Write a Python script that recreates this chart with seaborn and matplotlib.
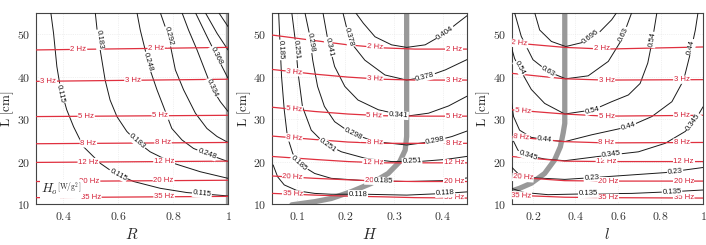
import numpy as np
import matplotlib
matplotlib.use("Agg")
import matplotlib.pyplot as plt
from matplotlib.ticker import FuncFormatter
import seaborn as sns

# ---- panel 1 : H_o over (R, L) ----
p1_black = {
    "0.115": ([0.354, 0.364, 0.376, 0.388, 0.412, 0.437, 0.473, 0.534, 0.583, 0.656, 0.753, 0.850, 1.0],
              [55.1, 50.2, 42.4, 37.7, 32.2, 28.2, 23.5, 19.6, 17.4, 15.3, 13.7, 12.7, 11.9]),
    "0.183": ([0.516, 0.524, 0.536, 0.552, 0.570, 0.595, 0.631, 0.668, 0.716, 0.801, 0.899, 1.0],
              [55.1, 50.2, 45.5, 39.2, 34.5, 30.6, 27.1, 24.7, 22.3, 19.6, 17.6, 16.05]),
    "0.248": ([0.668, 0.680, 0.698, 0.716, 0.741, 0.765, 0.795, 0.832, 0.874, 0.923, 1.0],
              [55.1, 51.0, 46.3, 41.6, 36.9, 32.9, 27.8, 25.1, 23.1, 21.8, 20.0]),
    "0.292": ([0.753, 0.783, 0.808, 0.838, 0.881, 0.923, 0.960, 1.0],
              [55.1, 49.5, 41.6, 36.9, 31.4, 27.8, 25.9, 24.5]),
    "0.334": ([0.832, 0.856, 0.887, 0.941, 0.972, 1.0],
              [55.1, 51.0, 46.3, 37.3, 34.1, 31.8]),
    "0.368": ([0.881, 0.923, 0.960, 1.0], [55.1, 49.5, 44.7, 39.6]),
    "0.401": ([0.917, 0.960, 1.0], [55.1, 50.2, 46.3]),
    "0.430": ([0.966, 1.0], [55.1, 51.8]),
}
p1_red = {
    "2 Hz": ([0.3, 1.0], [46.3, 46.9]),
    "3 Hz": ([0.3, 1.0], [38.9, 39.4]),
    "5 Hz": ([0.3, 1.0], [30.6, 30.9]),
    "8 Hz": ([0.3, 1.0], [24.2, 24.5]),
    "12 Hz": ([0.3, 1.0], [19.8, 20.1]),
    "20 Hz": ([0.3, 1.0], [15.3, 15.6]),
    "35 Hz": ([0.3, 1.0], [11.5, 11.8]),
}
p1_red_lab = {"2 Hz": [0.455, 0.738], "3 Hz": [0.345, 0.653], "5 Hz": [0.483, 0.753],
              "8 Hz": [0.491, 0.763], "12 Hz": [0.491, 0.767], "20 Hz": [0.495, 0.765],
              "35 Hz": [0.50, 0.767]}
p1_black_lab = [("0.183", 0.530, 48.7), ("0.292", 0.783, 49.5), ("0.368", 0.957, 45.0),
                ("0.115", 0.388, 36.0), ("0.248", 0.707, 43.5), ("0.334", 0.941, 37.3),
                ("0.183", 0.668, 24.7), ("0.248", 0.923, 21.8), ("0.115", 0.60, 16.9),
                ("0.115", 0.905, 12.4)]
p1_gray = ([1.0, 1.0], [9.0, 56.0])

# ---- panel 2 : over (H, L) ----
p2_black = {
    "0.404": ([0.221, 0.237, 0.261, 0.295, 0.326, 0.364, 0.399, 0.430, 0.455],
              [55.1, 52.6, 49.4, 47.5, 46.9, 47.5, 49.8, 52.6, 54.8]),
    "0.378": ([0.195, 0.2055, 0.2124, 0.240, 0.2814, 0.326, 0.364, 0.4055, 0.455],
              [55.1, 50.2, 47.9, 43.9, 40.4, 39.2, 39.9, 41.6, 44.3]),
    "0.341": ([0.154, 0.164, 0.178, 0.199, 0.226, 0.268, 0.326, 0.371, 0.412, 0.455],
              [55.1, 48.7, 42.4, 37.7, 34.5, 32.2, 30.7, 31.4, 33.1, 35.7]),
    "0.298": ([0.117, 0.126, 0.133, 0.143, 0.157, 0.178, 0.212, 0.261, 0.326, 0.378, 0.419, 0.455],
              [55.1, 50.2, 43.9, 37.7, 33.0, 29.4, 26.7, 24.7, 23.9, 24.7, 25.9, 27.4]),
    "0.251": ([0.090, 0.097, 0.103, 0.112, 0.130, 0.157, 0.192, 0.240, 0.295, 0.350, 0.406, 0.455],
              [55.1, 48.7, 40.8, 32.9, 27.4, 24.3, 22.3, 20.8, 20.0, 20.0, 20.5, 21.3]),
    "0.185": ([0.063, 0.0655, 0.069, 0.0745, 0.081, 0.092, 0.109, 0.137, 0.171, 0.240, 0.326, 0.399, 0.455],
              [55.1, 48.7, 40.0, 32.2, 25.9, 21.9, 19.2, 17.2, 16.05, 15.5, 15.3, 15.5, 16.2]),
    "0.118": ([0.0517, 0.061, 0.0745, 0.102, 0.137, 0.171, 0.240, 0.326, 0.406, 0.455],
              [19.2, 16.4, 14.5, 13.1, 12.5, 12.3, 12.3, 12.1, 12.5, 12.9]),
}
h_red = [0.05, 0.137, 0.2055, 0.2745, 0.343, 0.45]
p2_red = {
    "2 Hz": (h_red, [49.8, 48.5, 47.5, 46.8, 46.5, 46.5]),
    "3 Hz": (h_red, [41.7, 40.6, 39.9, 39.4, 39.2, 39.2]),
    "5 Hz": (h_red, [32.8, 31.8, 31.2, 30.8, 30.7, 30.7]),
    "8 Hz": (h_red, [26.0, 25.2, 24.6, 24.3, 24.3, 24.3]),
    "12 Hz": (h_red, [21.2, 20.5, 20.0, 19.7, 19.7, 19.7]),
    "20 Hz": (h_red, [16.6, 16.05, 15.7, 15.4, 15.3, 15.3]),
    "35 Hz": (h_red, [12.5, 12.1, 11.85, 11.7, 11.5, 11.4]),
}
p2_red_lab = {"2 Hz": [0.261, 0.423], "3 Hz": [0.095, 0.261, 0.423], "5 Hz": [0.095, 0.260, 0.423],
              "8 Hz": [0.095, 0.261, 0.423], "12 Hz": [0.257, 0.423], "20 Hz": [0.092, 0.261, 0.423],
              "35 Hz": [0.092, 0.423]}
p2_black_lab = [("0.185", 0.0668, 46.3), ("0.251", 0.0985, 46.3), ("0.298", 0.129, 48.0),
                ("0.341", 0.167, 47.0), ("0.378", 0.2075, 49.3), ("0.404", 0.405, 50.3),
                ("0.378", 0.364, 39.9), ("0.341", 0.309, 30.9), ("0.298", 0.216, 26.5),
                ("0.298", 0.385, 24.8), ("0.251", 0.164, 23.9), ("0.251", 0.337, 20.0),
                ("0.185", 0.1055, 19.6), ("0.185", 0.278, 15.4), ("0.118", 0.226, 12.3),
                ("0.118", 0.405, 12.5)]
p2_gray = ([0.09, 0.137, 0.171, 0.212, 0.254, 0.288, 0.312, 0.323, 0.326, 0.326],
           [9.8, 10.55, 11.3, 12.9, 14.9, 17.2, 20.0, 22.7, 25.9, 56.0])

# ---- panel 3 : over (l, L) ----
p3_black = {
    "0.696": ([0.208, 0.2315, 0.2866, 0.3543, 0.4283, 0.5071, 0.5701, 0.5937],
              [55.1, 51.0, 48.3, 47.1, 48.0, 50.2, 53.4, 55.1]),
    "0.63": ([0.1134, 0.1449, 0.2, 0.2709, 0.3543, 0.4598, 0.5543, 0.6173, 0.6646],
             [55.1, 49.5, 44.0, 41.2, 39.5, 40.2, 43.6, 48.7, 55.1]),
    "0.54": ([0.0976, 0.1134, 0.1449, 0.1921, 0.2551, 0.3496, 0.4835, 0.570, 0.649, 0.704, 0.740, 0.762, 0.783],
             [47.1, 44.3, 41.2, 37.0, 33.7, 31.2, 32.2, 34.1, 35.7, 38.4, 43.2, 48.7, 55.1]),
    "0.44": ([0.0976, 0.1087, 0.137, 0.1921, 0.263, 0.3496, 0.4756, 0.6488, 0.759, 0.8535, 0.9087, 0.9402, 0.9638, 0.9764],
             [34.5, 30.6, 27.4, 25.7, 25.1, 24.7, 26.3, 28.2, 30.6, 34.1, 39.2, 45.5, 51.0, 55.1]),
    "0.345": ([0.0976, 0.1055, 0.1291, 0.1764, 0.2551, 0.3496, 0.5386, 0.6961, 0.822, 0.9165, 0.9638, 1.0],
              [27.8, 25.1, 22.7, 21.4, 20.6, 20.2, 21.4, 22.3, 24.3, 27.1, 29.8, 32.9]),
    "0.23": ([0.0976, 0.1291, 0.1921, 0.3496, 0.4756, 0.6488, 0.822, 1.0],
             [18.8, 17.2, 16.2, 15.8, 16.2, 16.8, 17.4, 18.6]),
    "0.135": ([0.0976, 0.1606, 0.2709, 0.4598, 0.6646, 0.8535, 1.0],
              [13.7, 12.7, 12.2, 12.4, 12.5, 12.9, 13.3]),
}
l_red = [0.0976, 0.3496, 0.5386, 1.0]
p3_red = {
    "2 Hz": (l_red, [48.0, 46.9, 46.5, 47.0]),
    "3 Hz": (l_red, [40.8, 39.5, 39.2, 39.3]),
    "5 Hz": (l_red, [32.2, 31.2, 30.7, 30.9]),
    "8 Hz": (l_red, [25.9, 24.7, 24.4, 24.5]),
    "12 Hz": (l_red, [21.2, 20.1, 20.0, 20.0]),
    "20 Hz": (l_red, [16.4, 15.5, 15.4, 15.4]),
    "35 Hz": (l_red, [12.1, 11.6, 11.5, 11.4]),
}
p3_red_lab = {"2 Hz": [0.137, 0.523], "3 Hz": [0.546, 0.90], "5 Hz": [0.153, 0.546, 0.90],
              "8 Hz": [0.145, 0.546, 0.90], "12 Hz": [0.546, 0.909], "20 Hz": [0.153, 0.554, 0.909],
              "35 Hz": [0.145, 0.554, 0.909]}
p3_black_lab = [("0.696", 0.4724, 49.3), ("0.63", 0.271, 41.2), ("0.63", 0.625, 50.0),
                ("0.54", 0.137, 42.0), ("0.54", 0.480, 32.1), ("0.54", 0.762, 48.7),
                ("0.44", 0.255, 25.1), ("0.44", 0.649, 28.2), ("0.44", 0.945, 47.0),
                ("0.345", 0.176, 21.4), ("0.345", 0.570, 21.6), ("0.345", 0.955, 29.3),
                ("0.23", 0.476, 16.2), ("0.23", 0.869, 17.6), ("0.135", 0.460, 12.4),
                ("0.135", 0.854, 12.9)]
p3_gray = ([0.09, 0.137, 0.192, 0.255, 0.302, 0.329, 0.342, 0.3496, 0.3496],
           [12.9, 13.7, 14.9, 17.2, 20.4, 23.5, 26.7, 29.0, 56.0])

sns.set_style("white")
plt.rcParams["mathtext.fontset"] = "cm"
plt.rcParams["font.family"] = ["DejaVu Serif"]
SANS = ["Liberation Sans", "DejaVu Sans"]
RED = "#e0303f"
RED_TXT = "#d41f36"
BOX = dict(boxstyle="square,pad=0.08", fc="white", ec="none")


def on_line(ax, xs, ys, x0, y0, txt, color):
    # rotate the label along the local slope of the curve (display space)
    pts = ax.transData.transform(np.column_stack([xs, ys]))
    p0 = ax.transData.transform((x0, y0))
    i = int(np.argmin(np.hypot(pts[:, 0] - p0[0], pts[:, 1] - p0[1])))
    j0, j1 = max(i - 1, 0), min(i + 1, len(xs) - 1)
    dx, dy = pts[j1] - pts[j0]
    ang = np.degrees(np.arctan2(dy, dx))
    if ang > 90:
        ang -= 180
    elif ang < -90:
        ang += 180
    ax.text(x0, y0, txt, rotation=ang, rotation_mode="anchor", ha="center", va="center",
            fontsize=5.6, color=color, family=SANS, bbox=BOX, zorder=6, clip_on=True)


panels = [
    (p1_black, p1_red, p1_red_lab, p1_black_lab, p1_gray, (0.3, 1.0), [0.4, 0.6, 0.8, 1.0], "$R$",
     [0.051, 0.1673, 0.272, 0.7796]),
    (p2_black, p2_red, p2_red_lab, p2_black_lab, p2_gray, (0.05, 0.45), [0.1, 0.2, 0.3, 0.4], "$H$",
     [0.3857, 0.1673, 0.2758, 0.7796]),
    (p3_black, p3_red, p3_red_lab, p3_black_lab, p3_gray, (0.1, 1.0), [0.2, 0.4, 0.6, 0.8, 1.0], "$l$",
     [0.7248, 0.1673, 0.271, 0.7796]),
]

fig = plt.figure(figsize=(7.06, 2.45), dpi=100)
fmt = FuncFormatter(lambda v, p: f"${v:g}$")

for black, red, red_lab, black_lab, gray, xlim, xticks, xlab, pos in panels:
    ax = fig.add_axes(pos)
    ax.set_xlim(*xlim)
    ax.set_ylim(10, 55)

    sns.lineplot(x=gray[0], y=gray[1], sort=False, estimator=None, color="#999999",
                 lw=3.8, ax=ax, zorder=2, legend=False)
    for lev, (xs, ys) in black.items():
        sns.lineplot(x=xs, y=ys, sort=False, estimator=None, color="#1a1a1a", lw=0.7,
                     ax=ax, zorder=3, legend=False)
    for name, (xs, ys) in red.items():
        sns.lineplot(x=xs, y=ys, sort=False, estimator=None, color=RED, lw=0.9,
                     ax=ax, zorder=4, legend=False)

    ax.set_xlim(*xlim)
    ax.set_ylim(10, 55)
    ax.set_xticks(xticks)
    ax.set_yticks([10, 20, 30, 40, 50])
    ax.xaxis.set_major_formatter(fmt)
    ax.yaxis.set_major_formatter(fmt)
    ax.tick_params(direction="in", length=2.5, width=0.6, labelsize=8.5, colors="#333333",
                   pad=4)
    ax.grid(True, color="#e4e4e4", lw=0.5, ls=":")
    for s in ax.spines.values():
        s.set_color("#444444")
        s.set_linewidth(0.8)
    ax.set_xlabel(xlab, fontsize=11, labelpad=3)
    ax.set_ylabel(r"$\mathrm{L\ [cm]}$", fontsize=9.5, labelpad=0.5)

    for name, xs_lab in red_lab.items():
        xs, ys = red[name]
        for x0 in xs_lab:
            on_line(ax, xs, ys, x0, np.interp(x0, xs, ys), name, RED_TXT)
    for lev, x0, y0 in black_lab:
        xs, ys = black[lev]
        on_line(ax, xs, ys, x0, y0, lev, "#111111")

    if xlab == "$R$":
        ax.text(0.319, 13.4, r"$H_o$", fontsize=9.5, va="center", ha="left", zorder=7,
                bbox=dict(boxstyle="square,pad=0.12", fc="white", ec="none"))
        ax.text(0.378, 13.6, r"$\mathrm{[W/g^2]}$", fontsize=5.5, va="center", ha="left",
                zorder=7, bbox=dict(boxstyle="square,pad=0.2", fc="white", ec="none"))

fig.savefig("out.png", dpi=100)
